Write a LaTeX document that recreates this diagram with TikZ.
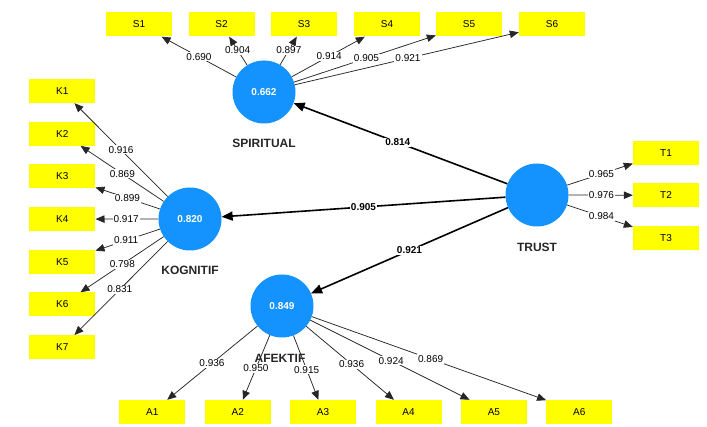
\documentclass[tikz,border=0pt]{standalone}
\usepackage{fontspec}
\setmainfont{Liberation Sans}
\usetikzlibrary{arrows.meta}
\definecolor{lvblue}{HTML}{1493FF}
\definecolor{mvyellow}{HTML}{FFFF00}
\definecolor{textdark}{HTML}{262626}

\begin{document}
\begin{tikzpicture}[x=1pt, y=-1pt,
    lv/.style={circle, fill=lvblue, minimum size=63pt, inner sep=0, text=white, font=\fontsize{10}{12}\selectfont\bfseries},
    mv/.style={fill=mvyellow, minimum width=66pt, minimum height=24pt, inner sep=0, font=\fontsize{10}{12}\selectfont},
    lvname/.style={font=\fontsize{12}{14}\selectfont\bfseries, text=textdark},
    load/.style={draw=textdark, line width=0.75pt, -{Triangle[length=9pt,width=7.5pt]}},
    strc/.style={draw=black, line width=1.6pt, -{Triangle[length=11pt,width=9pt]}},
    lbl/.style={fill=white, inner sep=1pt, font=\fontsize{10}{12}\selectfont},
    plbl/.style={fill=white, inner sep=1pt, font=\fontsize{10}{12}\selectfont\bfseries}]
    \useasboundingbox (0,0) rectangle (707,427);

    % latent variables
    \node[lv] (spi) at (264,92) {0.662};
    \node[lv] (kog) at (190,219) {0.820};
    \node[lv] (afe) at (282,306) {0.849};
    \node[lv] (tru) at (537,195) {};

    \node[lvname] (spiname) at (264,143) {SPIRITUAL};
    \node[lvname] (kogname) at (190,270) {KOGNITIF};
    \node[lvname] (afename) at (280,358) {AFEKTIF};
    \node[lvname] (truname) at (537,247) {TRUST};

    % indicators
    \foreach \i/\x in {1/139,2/221.5,3/304,4/387,5/469,6/552}
        \node[mv] (s\i) at (\x,24.5) {S\i};
    \foreach \i in {1,...,7}
        \node[mv] (k\i) at (62.3,{91+(\i-1)*42.7}) {K\i};
    \foreach \i in {1,...,6}
        \node[mv] (a\i) at ({152.3+(\i-1)*85.4},412) {A\i};
    \foreach \i/\y in {1/152.7,2/195.3,3/238}
        \node[mv] (t\i) at (666,\y) {T\i};

    % outer loadings
    \foreach \i/\v/\p in {1/0.690/.52, 2/0.904/.62, 3/0.897/.62, 4/0.914/.53, 5/0.905/.50, 6/0.921/.50}{
        \draw[load] (spi) -- (s\i);
        \path (spi.center) -- (s\i.center) node[lbl, pos=\p] {\v};
    }
    \foreach \i/\v/\p in {1/0.916/.54, 2/0.869/.53, 3/0.899/.49, 4/0.917/.50, 5/0.911/.50, 6/0.798/.53, 7/0.831/.55}{
        \draw[load] (kog) -- (k\i);
        \path (kog.center) -- (k\i.center) node[lbl, pos=\p] {\v};
    }
    \foreach \i/\v/\p in {1/0.936/.54, 2/0.950/.59, 3/0.915/.60, 4/0.936/.55, 5/0.924/.515, 6/0.869/.50}{
        \draw[load] (afe) -- (a\i);
        \path (afe.center) -- (a\i.center) node[lbl, pos=\p] {\v};
    }
    \foreach \i/\v in {1/0.965, 2/0.976, 3/0.984}{
        \draw[load] (tru) -- (t\i);
        \path (tru.center) -- (t\i.center) node[lbl, pos=.5] {\v};
    }

    % path coefficients
    \draw[strc] (tru) -- (spi);
    \draw[strc] (tru) -- (kog);
    \draw[strc] (tru) -- (afe);
    \path (tru.center) -- (spi.center) node[plbl, pos=.51] {0.814};
    \path (tru.center) -- (kog.center) node[plbl, pos=.50] {0.905};
    \path (tru.center) -- (afe.center) node[plbl, pos=.50] {0.921};
\end{tikzpicture}
\end{document}
